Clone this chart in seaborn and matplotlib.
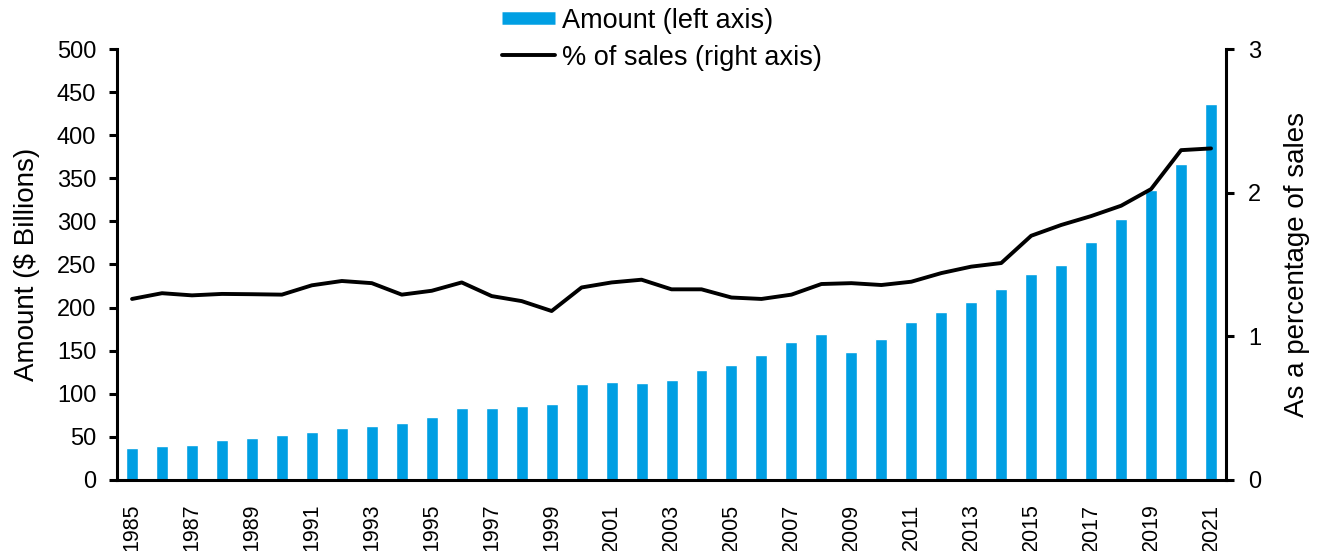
#!/usr/bin/env python3

import numpy as np
import pandas as pd
import matplotlib
matplotlib.use("Agg")
import matplotlib.pyplot as plt
from matplotlib.lines import Line2D
import seaborn as sns


# ------------------ DATA ------------------

years = list(range(1985, 2022))

amount_bn = [37, 39, 41, 46, 49, 52, 56, 60, 62, 66,
             73, 83, 84, 86, 88, 111, 114, 112, 116, 127,
             133, 145, 160, 169, 149, 164, 183, 195, 207, 222,
             239, 249, 276, 303, 336, 367, 436]

pct_sales = [1.26, 1.30, 1.285, 1.295, 1.293, 1.29, 1.355, 1.385, 1.37, 1.29,
             1.317, 1.375, 1.28, 1.245, 1.176, 1.34, 1.375, 1.394, 1.327, 1.327,
             1.27, 1.26, 1.29, 1.364, 1.37, 1.357, 1.38, 1.44, 1.485, 1.51,
             1.70, 1.775, 1.837, 1.909, 2.025, 2.296, 2.308]


# ------------------ STYLE ------------------

sns.set_theme(style="white")
plt.rcParams["font.family"] = ["Liberation Sans", "DejaVu Sans"]
plt.rcParams["text.color"] = "black"
plt.rcParams["axes.labelcolor"] = "black"
plt.rcParams["xtick.color"] = "black"
plt.rcParams["ytick.color"] = "black"

BAR_COLOR = "#009FE3"
SPINE_W = 2.2
LINE_W = 2.8
YTICK_FS = 17
XTICK_FS = 15.5
LABEL_FS = 20


# ------------------ PLOT ------------------

df = pd.DataFrame({"year": years, "amount": amount_bn, "pct": pct_sales})
df["pos"] = np.arange(len(df))

fig = plt.figure(figsize=(13.24, 5.51), dpi=100)
ax = fig.add_axes([0.0884, 0.129, 0.8376, 0.782])

sns.barplot(data=df, x="year", y="amount", ax=ax, color=BAR_COLOR,
            width=0.4, saturation=1)

ax2 = ax.twinx()
sns.lineplot(data=df, x="pos", y="pct", ax=ax2, color="black",
             linewidth=LINE_W)

ax.set_xlim(-0.5, len(df) - 0.5)
ax.set_ylim(0, 500)
ax.set_yticks(range(0, 501, 50))
ax2.set_ylim(0, 3)
ax2.set_yticks([0, 1, 2, 3])

# every second year labelled
ax.set_xticks(df["pos"][::2])
ax.set_xticklabels(df["year"][::2], rotation=90)

ax.set_xlabel("")
ax2.set_xlabel("")
ax.set_ylabel("Amount (\\$ Billions)", fontsize=LABEL_FS, labelpad=12)
ax2.set_ylabel("As a percentage of sales", fontsize=LABEL_FS, labelpad=16)

for a in (ax, ax2):
    a.spines["top"].set_visible(False)
    a.tick_params(labelsize=YTICK_FS, width=SPINE_W, length=6, color="black")

ax.spines["right"].set_visible(False)
ax.spines["left"].set_linewidth(SPINE_W)
ax.spines["bottom"].set_linewidth(SPINE_W)
ax2.spines["right"].set_linewidth(SPINE_W)
ax2.spines["left"].set_visible(False)
ax2.spines["bottom"].set_visible(False)
for s in ("left", "right", "bottom"):
    ax.spines[s].set_color("black")
    ax2.spines[s].set_color("black")

ax.tick_params(axis="y", left=True, direction="out", pad=9)
ax.tick_params(axis="x", bottom=False, pad=11, labelsize=XTICK_FS)
ax2.tick_params(axis="y", right=True, direction="out", pad=10)

# legend
handles = [Line2D([], [], color=BAR_COLOR, linewidth=9, solid_capstyle="butt"),
           Line2D([], [], color="black", linewidth=LINE_W)]
fig.legend(handles, ["Amount (left axis)", "% of sales (right axis)"],
           loc="upper center", bbox_to_anchor=(0.5, 1.03), frameon=False,
           fontsize=19.5, handlelength=1.95, handletextpad=0.25,
           labelspacing=0.4)

fig.savefig("out.png", dpi=100)
plt.close(fig)
